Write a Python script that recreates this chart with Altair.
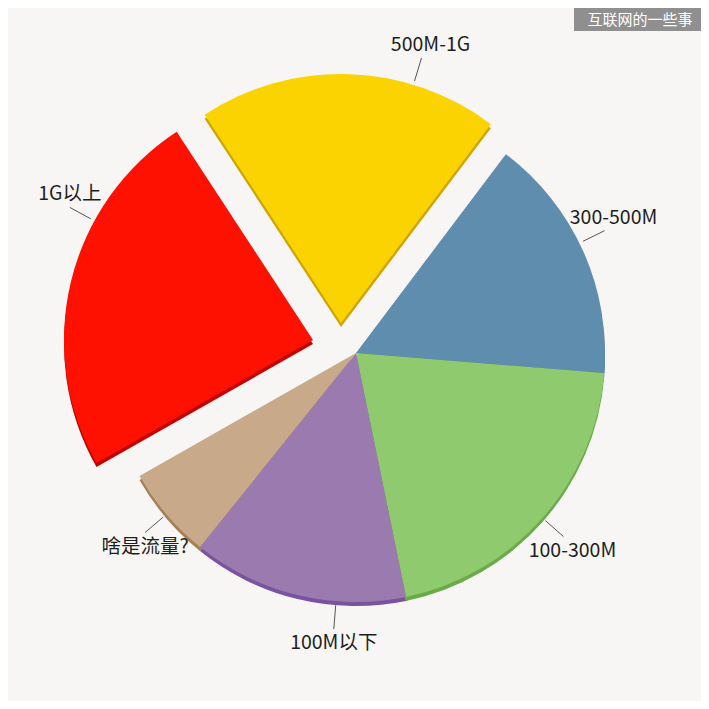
import math
import altair as alt
import pandas as pd

# ---- data ----
categories = ["500M-1G", "300-500M", "100-300M", "100M以下", "啥是流量?", "1G以上"]
shares = [19.5, 16.0, 20.5, 14.0, 6.0, 24.0]
watermark = ["互联网的一些事"]

# ---- styles ----
FILL = {"500M-1G": "#FBD300", "300-500M": "#5E8DAD", "100-300M": "#8FCB6E",
        "100M以下": "#9B7BAF", "啥是流量?": "#C8A98A", "1G以上": "#FE1100"}
SHADOW = {"500M-1G": "#CFA300", "300-500M": "#46708C", "100-300M": "#6AAA48",
          "100M以下": "#7A52A2", "啥是流量?": "#A67F55", "1G以上": "#C20000"}
EXPLODE = {"500M-1G": (-15, -30), "1G以上": (-43, -13)}
LABEL_NUDGE = {"500M-1G": 15, "300-500M": -2, "100M以下": -9, "1G以上": 15}

CX, CY = 348, 345
R = 249
R1 = R + 4
LEAD = 24
START = math.radians(326.8)
FONT = "Noto Sans CJK SC"

df = pd.DataFrame({"cat": categories, "share": shares, "order": list(range(len(categories)))})
df["fill"] = df["cat"].map(FILL)
df["shadow"] = df["cat"].map(SHADOW)
df["dx"] = df["cat"].map(lambda c: EXPLODE.get(c, (0, 0))[0])
df["dy"] = df["cat"].map(lambda c: EXPLODE.get(c, (0, 0))[1])
df["nudge"] = df["cat"].map(lambda c: LABEL_NUDGE.get(c, 0))

base = (
    alt.Chart(df)
    .transform_window(cum="sum(share)", sort=[alt.SortField("order")])
    .transform_joinaggregate(total="sum(share)")
    .transform_calculate(a1=f"{START} + 2*PI*datum.cum/datum.total")
    .transform_calculate(a0="datum.a1 - 2*PI*datum.share/datum.total")
    .transform_calculate(phi="(datum.a0 + datum.a1)/2 + datum.nudge*PI/180")
    .transform_calculate(cx=f"{CX} + datum.dx")
    .transform_calculate(cy=f"{CY} + datum.dy")
    .transform_calculate(cys="datum.cy + 4")
    .transform_calculate(lx1=f"datum.cx + {R1}*sin(datum.phi)")
    .transform_calculate(ly1=f"datum.cy - {R1}*cos(datum.phi)")
    .transform_calculate(lx2=f"datum.cx + {R1 + LEAD}*sin(datum.phi)")
    .transform_calculate(ly2=f"datum.cy - {R1 + LEAD}*cos(datum.phi)")
    .transform_calculate(tx="datum.lx2 + (sin(datum.phi) > 0 ? 9 : 0)")
    .transform_calculate(ty="datum.ly2 + (cos(datum.phi) > 0 ? -13 : 14)")
)

shadow = base.mark_arc(radius=R).encode(
    x=alt.X("cx:Q", scale=None, axis=None),
    y=alt.Y("cys:Q", scale=None, axis=None),
    theta=alt.Theta("a0:Q", scale=None, stack=None),
    theta2="a1:Q",
    color=alt.Color("shadow:N", scale=None),
)

slices = base.mark_arc(radius=R).encode(
    x=alt.X("cx:Q", scale=None, axis=None),
    y=alt.Y("cy:Q", scale=None, axis=None),
    theta=alt.Theta("a0:Q", scale=None, stack=None),
    theta2="a1:Q",
    color=alt.Color("fill:N", scale=None),
)

leaders = base.mark_rule(color="#555555", strokeWidth=1).encode(
    x=alt.X("lx1:Q", scale=None, axis=None),
    y=alt.Y("ly1:Q", scale=None, axis=None),
    x2="lx2:Q",
    y2="ly2:Q",
)

labels = base.mark_text(font=FONT, fontSize=19.5, color="#1E1E1E",
                        align="center", baseline="middle").encode(
    x=alt.X("tx:Q", scale=None, axis=None),
    y=alt.Y("ty:Q", scale=None, axis=None),
    text="cat:N",
)

wm_df = pd.DataFrame({"t": watermark})
wm_box = alt.Chart(wm_df).mark_rect(color="#8F8F8F").encode(
    x=alt.value(566), x2=alt.value(693), y=alt.value(0), y2=alt.value(23)
)
wm_text = alt.Chart(wm_df).mark_text(font=FONT, fontSize=15, color="white",
                                     align="center", baseline="middle").encode(
    x=alt.value(632), y=alt.value(12), text="t:N"
)

chart = (
    alt.layer(shadow, slices, leaders, labels, wm_box, wm_text)
    .properties(width=693, height=693, padding=0,
                autosize=alt.AutoSizeParams(type="none"),
                background="#F7F6F4")
    .configure_view(stroke=None)
)

chart.save("out.html", embed_options={"renderer": "svg", "actions": False})
